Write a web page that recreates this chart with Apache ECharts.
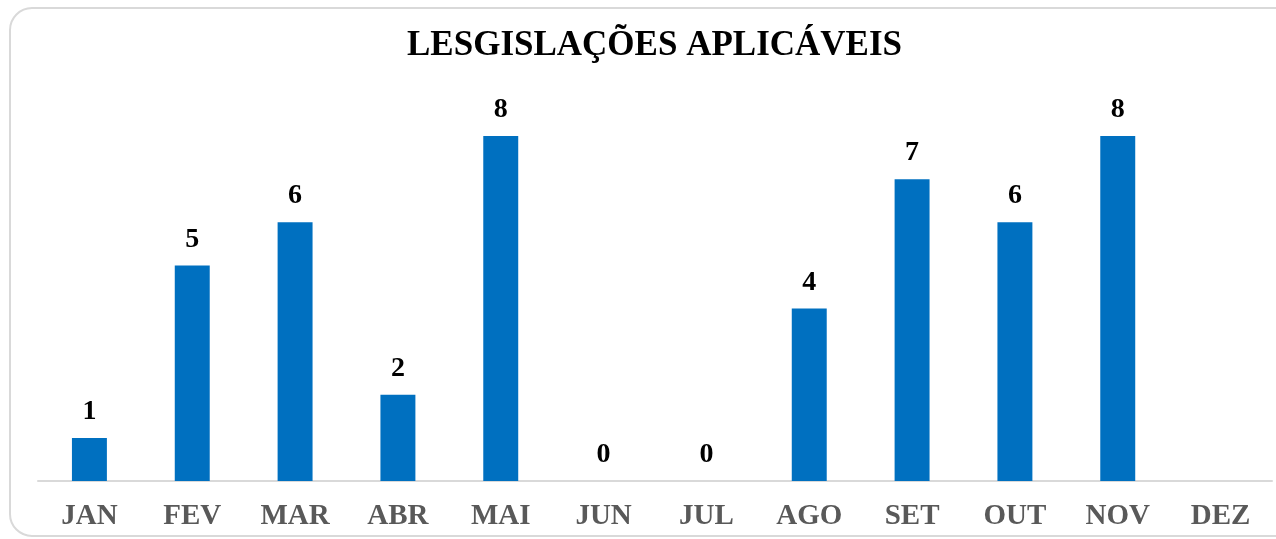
<!DOCTYPE html>
<html>
<head>
<meta charset="utf-8">
<script src="https://cdn.jsdelivr.net/npm/echarts@6/dist/echarts.min.js"></script>
<style>
  html, body { margin: 0; padding: 0; background: #fff; }
  #chart { width: 1276px; height: 539px; }
</style>
</head>
<body>
<div id="chart"></div>
<script>
// chart data
var months = ['JAN', 'FEV', 'MAR', 'ABR', 'MAI', 'JUN', 'JUL', 'AGO', 'SET', 'OUT', 'NOV', 'DEZ'];
var counts = [1, 5, 6, 2, 8, 0, 0, 4, 7, 6, 8, null];
var titleText = 'LESGISLAÇÕES APLICÁVEIS';

var myChart = echarts.init(document.getElementById('chart'));
var option;

option = {
  animation: false,
  title: {
    text: titleText,
    left: 402,
    top: 23,
    textStyle: {
      fontFamily: 'Liberation Serif',
      fontWeight: 'bold',
      fontSize: 35,
      color: '#000'
    }
  },
  graphic: [
    {
      type: 'rect',
      shape: { x: 10, y: 8, width: 1290, height: 528, r: 22 },
      style: { fill: 'none', stroke: '#d9d9d9', lineWidth: 2 },
      z: -1
    }
  ],
  grid: {
    left: 38,
    right: 4,
    top: 136,
    bottom: 58
  },
  xAxis: {
    type: 'category',
    data: months,
    axisLine: { lineStyle: { color: '#d9d9d9', width: 2 } },
    axisTick: { show: false },
    axisLabel: {
      margin: 21,
      fontFamily: 'Liberation Serif',
      fontWeight: 'bold',
      fontSize: 29,
      color: '#595959'
    }
  },
  yAxis: {
    type: 'value',
    min: 0,
    max: 8,
    show: false,
    splitLine: { show: false }
  },
  series: [
    {
      type: 'bar',
      data: counts,
      barWidth: '34%',
      itemStyle: { color: '#0070c0' },
      label: {
        show: true,
        position: 'top',
        distance: 12,
        fontFamily: 'Liberation Serif',
        fontWeight: 'bold',
        fontSize: 28,
        color: '#000'
      }
    }
  ]
};

option && myChart.setOption(option);
</script>
</body>
</html>
